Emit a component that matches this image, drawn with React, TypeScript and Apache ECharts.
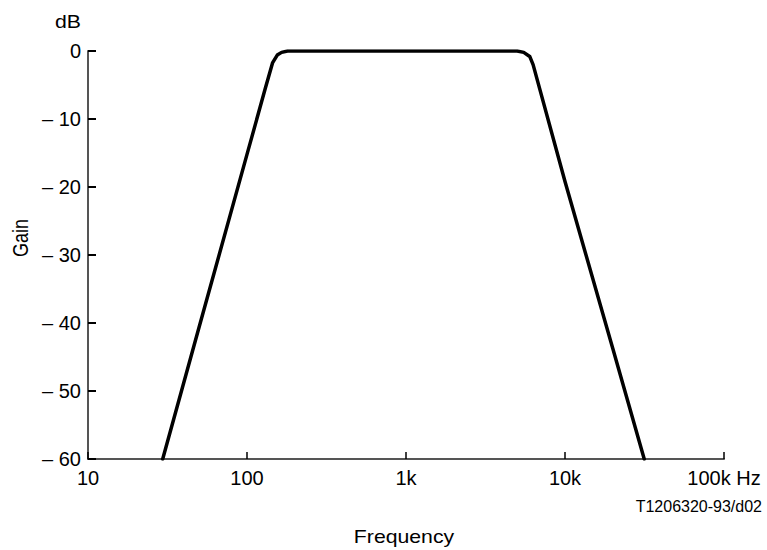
import React, { useEffect, useRef } from "react";
import * as echarts from "echarts";

const frequencies = [29.5, 50, 100, 130, 145, 155, 165, 180, 1000, 5000, 5500, 6000, 6300, 10000, 20000, 31500];
const gains = [-60, -40.6, -15.2, -5.6, -1.7, -0.6, -0.2, 0, 0, 0, -0.2, -0.8, -2.0, -19.2, -43.8, -60];
const xTickLabels: Record<string, string> = { "10": "10", "100": "100", "1000": "1k", "10000": "10k", "100000": "100k Hz" };
const yUnit = "dB";
const yName = "Gain";
const xName = "Frequency";
const figureId = "T1206320-93/d02";

const FONT = "'Liberation Sans', Arial, sans-serif";

export default function App() {
  const ref = useRef<HTMLDivElement>(null);
  useEffect(() => {
    if (!ref.current) return;
    const chart = echarts.init(ref.current, undefined, { renderer: "svg" });
    const data = frequencies.map((f, i) => [f, gains[i]]);
    chart.setOption({
      animation: false,
      backgroundColor: "#ffffff",
      grid: { left: 88, right: 43, top: 51, bottom: 91, containLabel: false },
      xAxis: {
        type: "log",
        logBase: 10,
        min: 10,
        max: 100000,
        axisLine: { show: true, onZero: false, lineStyle: { color: "#555555", width: 2 } },
        axisTick: { show: true, inside: true, length: 7, lineStyle: { color: "#000000", width: 1.5 } },
        minorTick: { show: false },
        splitLine: { show: false },
        axisLabel: {
          fontFamily: FONT,
          fontSize: 20,
          color: "#000000",
          margin: 9,
          formatter: (v: number) => xTickLabels[String(Math.round(v))] ?? "",
        },
      },
      yAxis: {
        type: "value",
        min: -60,
        max: 0,
        interval: 10,
        axisLine: { show: true, onZero: false, lineStyle: { color: "#555555", width: 2 } },
        axisTick: { show: true, inside: true, length: 8, lineStyle: { color: "#000000", width: 2 } },
        splitLine: { show: false },
        axisLabel: {
          fontFamily: FONT,
          fontSize: 20,
          color: "#000000",
          margin: 7,
          formatter: (v: number) => (v < 0 ? "\u2013 " + Math.abs(v) : String(v)),
        },
      },
      series: [
        {
          type: "line",
          data,
          showSymbol: false,
          smooth: false,
          lineStyle: { color: "#000000", width: 3.5, join: "round", cap: "round" },
        },
      ],
      graphic: [
        {
          type: "text",
          x: 81,
          y: 22,
          scaleX: 1.18,
          style: { text: yUnit, fontFamily: FONT, fontSize: 18, fill: "#000", align: "right", verticalAlign: "middle" },
        },
        {
          type: "text",
          x: 20,
          y: 238,
          rotation: Math.PI / 2,
          scaleY: 1.18,
          style: { text: yName, fontFamily: FONT, fontSize: 18, fill: "#000", align: "center", verticalAlign: "middle" },
        },
        {
          type: "text",
          x: 404,
          y: 537,
          scaleX: 1.18,
          style: { text: xName, fontFamily: FONT, fontSize: 18, fill: "#000", align: "center", verticalAlign: "middle" },
        },
        {
          type: "text",
          x: 762,
          y: 506,
          style: { text: figureId, fontFamily: FONT, fontSize: 16, fill: "#000", align: "right", verticalAlign: "middle" },
        },
      ],
    });
    return () => chart.dispose();
  }, []);
  return <div ref={ref} style={{ width: 767, height: 550, position: "absolute", left: 0, top: 0 }} />;
}
